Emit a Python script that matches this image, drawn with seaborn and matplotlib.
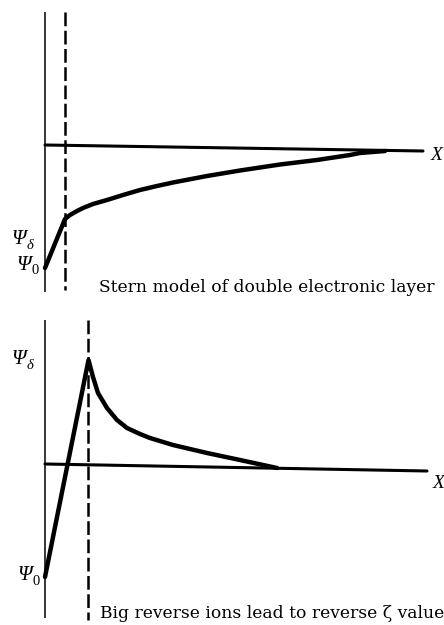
import numpy as np
import pandas as pd
import matplotlib
matplotlib.use("Agg")
import matplotlib.pyplot as plt
import seaborn as sns

# ---------------- data (distance from wall, potential) ----------------
# Top panel: Stern model of the double layer
top_curve_x = [0, 20, 25, 32, 38, 48, 62, 78, 95, 112, 128, 162, 195, 235, 272, 305, 315, 340]
top_curve_y = [-123, -74, -70, -66, -63, -59, -55, -50, -45, -41, -37.5, -31, -25.5, -19.5, -15, -10, -8, -6]
top_zero_x = [0, 378]
top_zero_y = [0, -6]
top_stern_plane = 20

# Bottom panel: reverse zeta potential
bot_curve_x = [0, 43.5, 48, 53, 62, 72, 82, 95, 105, 128, 162, 195, 232]
bot_curve_y = [-113, 104, 87, 71, 56, 44, 36, 30, 26, 19, 11, 4, -4]
bot_zero_x = [0, 382]
bot_zero_y = [0, -7]
bot_stern_plane = 43

captions = ["Stern model of double electronic layer",
            "Big reverse ions lead to reverse \u03b6 value"]
psi_symbol = "\u03a8"
psi_subs = ["\u03b4", "0"]
x_label = "X"

sns.set_style("white")
serif = ["DejaVu Serif"]
times = ["Liberation Serif", "DejaVu Serif"]

fig = plt.figure(figsize=(4.44, 6.25), dpi=100)
ax_top = fig.add_axes([0, 1 - 312 / 625, 1, 312 / 625])
ax_bot = fig.add_axes([0, 0, 1, 313 / 625])

panels = [
    dict(ax=ax_top, cx=top_curve_x, cy=top_curve_y, zx=top_zero_x, zy=top_zero_y,
         sp=top_stern_plane, ylim=(-167, 145), vax=(133, -147), dash=(133, -145),
         pd_pos=(-26, -95), p0_pos=(-21, -120), x_pos=(386, -10), cap_pos=(222, -142),
         cap=captions[0]),
    dict(ax=ax_bot, cx=bot_curve_x, cy=bot_curve_y, zx=bot_zero_x, zy=bot_zero_y,
         sp=bot_stern_plane, ylim=(-161, 152), vax=(144, -154), dash=(144, -156),
         pd_pos=(-26, 104), p0_pos=(-20, -112), x_pos=(388, -20), cap_pos=(227, -149),
         cap=captions[1]),
]


def psi_label(ax, pos, sub, sub_italic):
    ax.text(*pos, psi_symbol, fontsize=15, ha="center", va="center",
            family=times, style="italic", color="black")
    ax.annotate(sub, xy=pos, xytext=(5.5, -4), textcoords="offset points",
                fontsize=10.5, ha="left", va="center", family=times,
                style="italic" if sub_italic else "normal", color="black")


for p in panels:
    ax = p["ax"]
    ax.set_xlim(-45, 399)
    ax.set_ylim(*p["ylim"])
    ax.axis("off")
    # wall (potential axis)
    ax.plot([0, 0], list(p["vax"]), color="black", lw=1.1, solid_capstyle="butt")
    # Stern plane
    ax.plot([p["sp"], p["sp"]], list(p["dash"]), color="black", lw=1.8,
            dashes=(5.5, 1.8))
    # zero potential line
    sns.lineplot(x=p["zx"], y=p["zy"], ax=ax, color="black", lw=2.2, sort=False)
    # potential curve
    sns.lineplot(x=p["cx"], y=p["cy"], ax=ax, color="black", lw=3.2, sort=False,
                 estimator=None, solid_joinstyle="round")
    ax.text(*p["x_pos"], x_label, fontsize=14, ha="left", va="center",
            family=times, style="italic", color="black")
    ax.text(*p["cap_pos"], p["cap"], fontsize=12.3, ha="center", va="center",
            family=serif, color="black")

psi_label(ax_top, panels[0]["pd_pos"], psi_subs[0], True)
psi_label(ax_top, panels[0]["p0_pos"], psi_subs[1], False)
psi_label(ax_bot, panels[1]["pd_pos"], psi_subs[0], True)
psi_label(ax_bot, panels[1]["p0_pos"], psi_subs[1], False)

fig.savefig("out.png", dpi=100)
